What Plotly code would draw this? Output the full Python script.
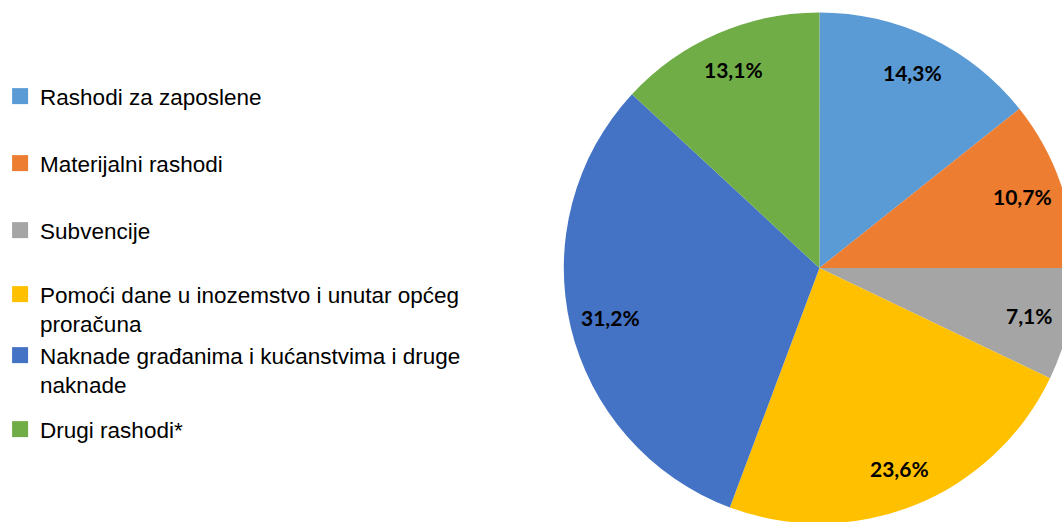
import math
import plotly.graph_objects as go

labels = [
    "Rashodi za zaposlene",
    "Materijalni rashodi",
    "Subvencije",
    "Pomoći dane u inozemstvo i unutar općeg<br>proračuna",
    "Naknade građanima i kućanstvima i druge<br>naknade",
    "Drugi rashodi*",
]
values = [14.3, 10.7, 7.1, 23.6, 31.2, 13.1]
text_labels = ["14,3%", "10,7%", "7,1%", "23,6%", "31,2%", "13,1%"]
colors = ["#5B9BD5", "#ED7D31", "#A5A5A5", "#FFC000", "#4472C4", "#70AD47"]

# layout constants (pixels)
W, H = 1076, 526
CX, CY, R = 817, 268, 258
LABEL_FRAC = 0.84
legend_top_px = [75, 142, 209, 273, 334, 408]

fig = go.Figure()
fig.add_trace(go.Pie(
    labels=labels, values=values,
    textinfo="none",
    sort=False, direction="clockwise", rotation=0,
    marker=dict(colors=colors, line=dict(width=0)),
    domain=dict(x=[(CX - R) / W, (CX + R) / W], y=[1 - (CY + R) / H, 1 - (CY - R) / H]),
    showlegend=False, hoverinfo="label+percent",
))

# percentage labels placed along each slice's bisector
total = sum(values)
cum = 0.0
for v, t in zip(values, text_labels):
    mid = (cum + v / 2) / total * 2 * math.pi
    cum += v
    px = CX + LABEL_FRAC * R * math.sin(mid)
    py = CY - LABEL_FRAC * R * math.cos(mid)
    fig.add_annotation(
        x=px / W, y=1 - py / H, xref="paper", yref="paper",
        text=t, showarrow=False, xanchor="center", yanchor="middle",
        font=dict(family="Lato", size=21, color="black", weight="bold"),
    )

layout_legends = {}
for i, (lab, col, top) in enumerate(zip(labels, colors, legend_top_px)):
    key = "legend" if i == 0 else f"legend{i+1}"
    fig.add_trace(go.Scatter(
        x=[None], y=[None], mode="markers", name=lab,
        marker=dict(symbol="square", size=16, color=col),
        legend=key, showlegend=True, hoverinfo="skip",
    ))
    layout_legends[key] = dict(
        x=-10 / W, xanchor="left", y=1 - top / H, yanchor="top", valign="top",
        font=dict(family="Liberation Sans", size=22.5, color="black"),
        bgcolor="rgba(0,0,0,0)", borderwidth=0,
    )

fig.update_layout(
    width=W, height=H,
    margin=dict(l=0, r=0, t=0, b=0),
    paper_bgcolor="white", plot_bgcolor="white",
    xaxis=dict(visible=False), yaxis=dict(visible=False),
    **layout_legends,
)
fig.write_html(
    "out.html",
    config={"displayModeBar": False},
    post_script="document.body.style.margin='0';document.body.style.overflow='hidden';",
)
